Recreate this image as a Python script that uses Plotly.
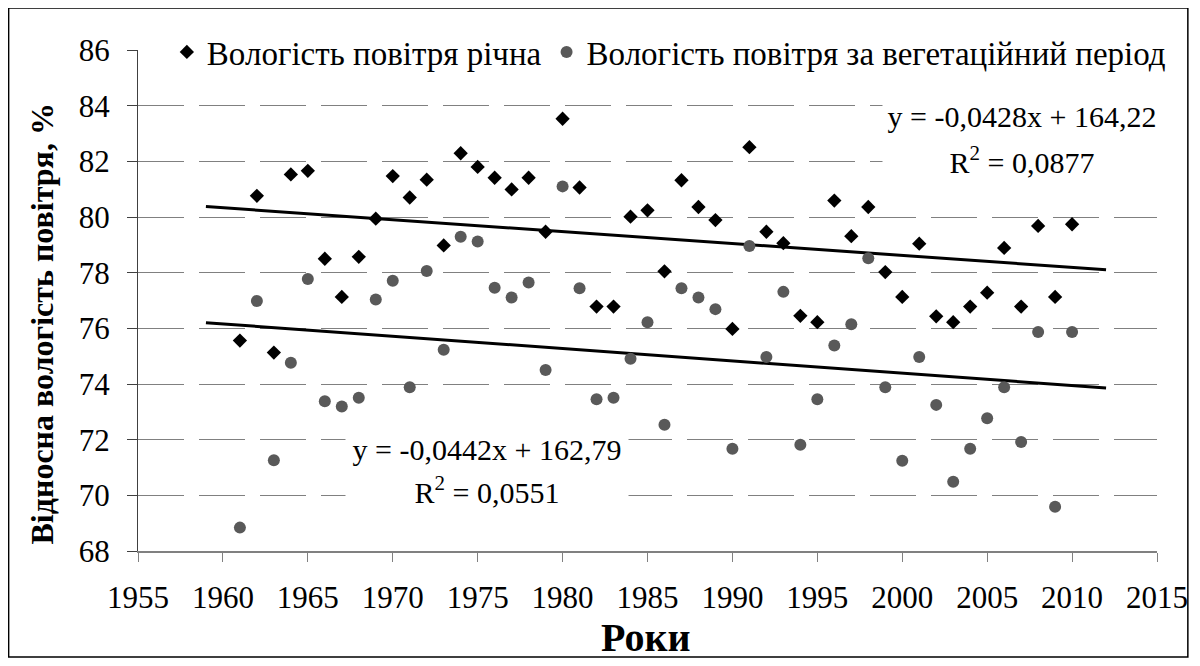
import plotly.graph_objects as go

# ---------------- data ----------------
years = [1961, 1962, 1963, 1964, 1965, 1966, 1967, 1968, 1969, 1970,
         1971, 1972, 1973, 1974, 1975, 1976, 1977, 1978, 1979, 1980,
         1981, 1982, 1983, 1984, 1985, 1986, 1987, 1988, 1989, 1990,
         1991, 1992, 1993, 1994, 1995, 1996, 1997, 1998, 1999, 2000,
         2001, 2002, 2003, 2004, 2005, 2006, 2007, 2008, 2009, 2010]

humidity_annual = [75.56, 80.76, 75.13, 81.53, 81.66, 78.50, 77.13, 78.57, 79.94, 81.47,
                   80.70, 81.34, 78.98, 82.29, 81.80, 81.41, 80.99, 81.41, 79.47, 83.53,
                   81.06, 76.78, 76.78, 80.01, 80.24, 78.05, 81.32, 80.36, 79.89, 75.98,
                   82.51, 79.47, 79.06, 76.45, 76.22, 80.59, 79.31, 80.36, 78.02, 77.13,
                   79.04, 76.43, 76.22, 76.78, 77.28, 78.89, 76.78, 79.68, 77.13, 79.74]

humidity_vegetation = [68.84, 76.98, 71.26, 74.76, 77.77, 73.38, 73.19, 73.51, 77.04, 77.71,
                       73.88, 78.06, 75.23, 79.29, 79.12, 77.46, 77.11, 77.65, 74.50, 81.10,
                       77.44, 73.45, 73.51, 74.91, 76.22, 72.54, 77.44, 77.11, 76.69, 71.67,
                       78.96, 74.97, 77.31, 71.82, 73.45, 75.38, 76.15, 78.52, 73.88, 71.24,
                       74.97, 73.25, 70.49, 71.67, 72.77, 73.88, 71.92, 75.87, 69.59, 75.87]

series_names = ["Вологість повітря річна", "Вологість повітря за вегетаційний період"]

# linear trends (as printed on the chart)
trend_slope = [-0.0428, -0.0442]
trend_intercept = [164.22, 162.79]
trend_r2 = ["0,0877", "0,0551"]
trend_x_range = [1959, 2012]

x_ticks = [1955, 1960, 1965, 1970, 1975, 1980, 1985, 1990, 1995, 2000, 2005, 2010, 2015]
y_ticks = [68, 70, 72, 74, 76, 78, 80, 82, 84, 86]

x_title = "Роки"
y_title = "Відносна вологість повітря, %"

# ---------------- layout helpers (screen px; page body adds 8px) ----------------
OFF = 8
W, H = 1200 - OFF, 666 - OFF
L, R, T, B = 138, 1162, 50, 551   # plot area in screen px


def px(xs):
    return (xs - L) / (R - L)


def py(ys):
    return (B - ys) / (B - T)


FONT = "Liberation Serif"

fig = go.Figure()

# trend lines
for s, b in zip(trend_slope, trend_intercept):
    fig.add_trace(go.Scatter(
        x=trend_x_range,
        y=[s * trend_x_range[0] + b, s * trend_x_range[1] + b],
        mode="lines", line=dict(color="black", width=3),
        showlegend=False, hoverinfo="skip"))

fig.add_trace(go.Scatter(
    x=years, y=humidity_annual, mode="markers", name=series_names[0],
    marker=dict(symbol="diamond", size=11, color="black")))
fig.add_trace(go.Scatter(
    x=years, y=humidity_vegetation, mode="markers", name=series_names[1],
    marker=dict(symbol="circle", size=12, color="#595959")))


def fmt(v, nd):
    return f"{abs(v):.{nd}f}".replace(".", ",")


eq_pos = [  # (center x px, line1 y px, line2 y px, box width)
    (1026, 117, 160, 274),
    (489, 449, 490, 278),
]
for i in range(2):
    cx, y1, y2, w = eq_pos[i]
    sign = "-" if trend_slope[i] < 0 else ""
    eq = f"y = {sign}{fmt(trend_slope[i], 4)}x + {fmt(trend_intercept[i], 2)}"
    r2 = f"R<sup>2</sup> = {trend_r2[i]}"
    for txt, yy in ((eq, y1), (r2, y2)):
        fig.add_annotation(
            x=px(cx), y=py(yy), xref="paper", yref="paper",
            text=txt, showarrow=False, xanchor="center", yanchor="middle",
            width=w, align="center", bgcolor="white", borderpad=2,
            font=dict(family=FONT, size=30, color="black"))

# axis titles
fig.add_annotation(
    x=px(42), y=py(324), xref="paper", yref="paper", text=f"<b>{y_title}</b>",
    textangle=-90, showarrow=False, xanchor="center", yanchor="middle",
    font=dict(family=FONT, size=32, color="black"))
fig.add_annotation(
    x=px(648), y=py(637), xref="paper", yref="paper", text=f"<b>{x_title}</b>",
    showarrow=False, xanchor="center", yanchor="middle",
    font=dict(family=FONT, size=40, color="black"))

# outer border
fig.add_shape(type="rect", xref="paper", yref="paper",
              x0=px(8), x1=px(1193), y0=py(657), y1=py(8),
              line=dict(color="black", width=1.5), fillcolor="rgba(0,0,0,0)")

fig.update_layout(
    width=W, height=H,
    margin=dict(l=L - OFF, r=1200 - R, t=T - OFF, b=666 - B),
    paper_bgcolor="white", plot_bgcolor="white",
    font=dict(family=FONT, size=31, color="black"),
    legend=dict(orientation="h", x=px(167), y=py(52), xanchor="left", yanchor="middle",
                bgcolor="white", font=dict(family=FONT, size=33, color="black"),
                tracegroupgap=0),
    showlegend=True,
)

fig.update_xaxes(
    range=[1955, 2015], tickvals=x_ticks, ticktext=[str(t) for t in x_ticks],
    showgrid=False, zeroline=False,
    showline=True, linecolor="#808080", linewidth=2,
    ticks="outside", ticklen=9, tickwidth=1, tickcolor="#808080",
    tickfont=dict(family=FONT, size=31, color="black"), ticklabelstandoff=9)
fig.update_yaxes(
    range=[68, 86], tickvals=y_ticks, ticktext=[str(t) for t in y_ticks],
    showgrid=True, gridcolor="#808080", gridwidth=1, griddash="46px,15px",
    zeroline=False,
    showline=True, linecolor="#404040", linewidth=1,
    ticks="outside", ticklen=10, tickwidth=1, tickcolor="#404040",
    tickfont=dict(family=FONT, size=31, color="black"), ticklabelstandoff=11)

fig.write_html("out.html")
